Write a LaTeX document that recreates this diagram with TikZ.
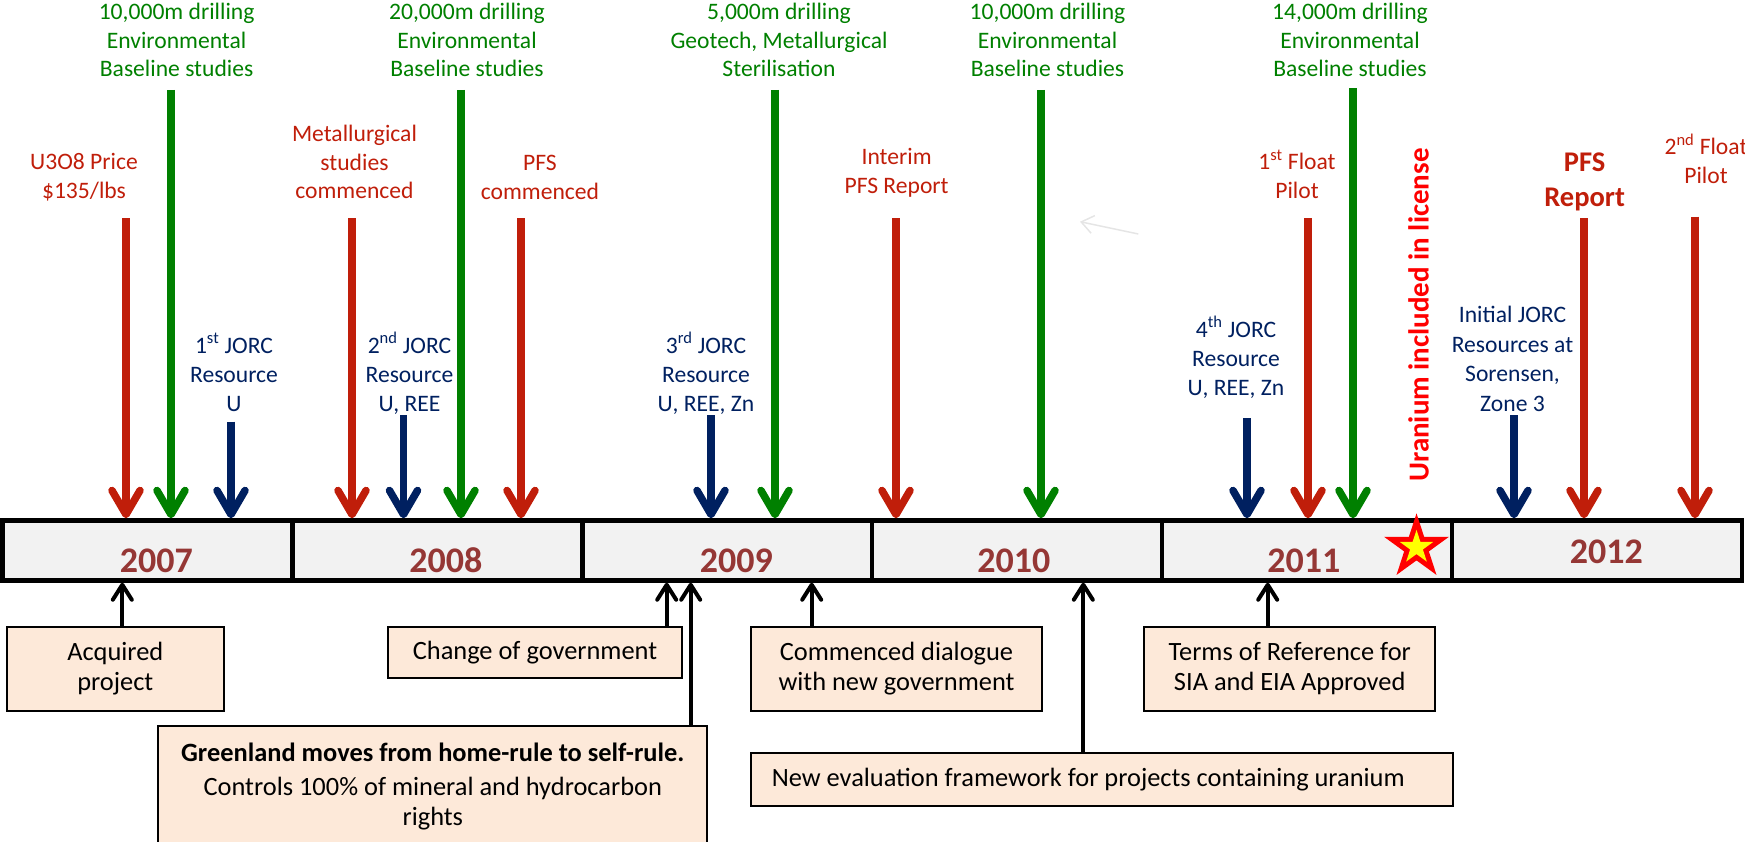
\documentclass[tikz,border=0pt]{standalone}
\usepackage{fontspec}
\setmainfont{Carlito}
\usetikzlibrary{arrows.meta}
\definecolor{evred}{RGB}{192,30,10}
\definecolor{evgreen}{RGB}{0,128,0}
\definecolor{evblue}{RGB}{0,32,96}
\definecolor{yeartext}{RGB}{149,55,53}
\definecolor{barfill}{RGB}{242,242,242}
\definecolor{notefill}{RGB}{253,233,217}
\definecolor{licred}{RGB}{255,0,0}
\definecolor{staryellow}{RGB}{255,255,0}
% centred multi-line text whose base is the first line's baseline
\newcommand{\mlines}[1]{\begin{tabular}[t]{@{}c@{}}#1\end{tabular}}
\begin{document}
\begin{tikzpicture}[x=1pt,y=-1pt,
  yearbox/.style={draw=black,line width=4.5pt,fill=barfill,minimum width=289.9pt,minimum height=60pt,inner sep=0pt},
  yeartxt/.style={anchor=base,inner sep=0pt,text=yeartext,font=\fontsize{36}{43}\selectfont\bfseries},
  toplbl/.style={anchor=base,inner sep=0pt,font=\fontsize{23.6}{28.4}\selectfont},
  grnlbl/.style={toplbl,text=evgreen},
  redlbl/.style={toplbl,text=evred},
  blulbl/.style={toplbl,text=evblue,font=\fontsize{23.6}{29.4}\selectfont},
  downarr/.style={line width=7.5pt,-{Straight Barb[length=24pt,width=28pt,round]}},
  redarr/.style={downarr,draw=evred},
  grnarr/.style={downarr,draw=evgreen},
  bluarr/.style={downarr,draw=evblue},
  note/.style={draw=black,line width=2pt,fill=notefill,inner sep=0pt,align=center,font=\fontsize{26.4}{30}\selectfont},
  uparr/.style={draw=black,line width=4pt,-{Straight Barb[length=15pt,width=19pt,round]}},
]
\useasboundingbox (0,0) rectangle (1745,842);

% ---- year bar ----
\node[yearbox] (y2007) at (147.45,550.5) {};
\node[yearbox] (y2008) at (437.35,550.5) {};
\node[yearbox] (y2009) at (727.25,550.5) {};
\node[yearbox] (y2010) at (1017.15,550.5) {};
\node[yearbox] (y2011) at (1307.05,550.5) {};
\node[yearbox] (y2012) at (1596.95,550.5) {};
\node[yeartxt] (t2007) at (156.3,572) {2007};
\node[yeartxt] (t2008) at (445.9,572) {2008};
\node[yeartxt] (t2009) at (736.4,572) {2009};
\node[yeartxt] (t2010) at (1013.8,572) {2010};
\node[yeartxt] (t2011) at (1303.9,572) {2011};
\node[yeartxt] (t2012) at (1606.4,563) {2012};

% licence star
\fill[licred,shift={(1416.5,547.4)}] (270:34) -- (306:13) -- (342:34) -- (18:13) -- (54:34) -- (90:13)
  -- (126:34) -- (162:13) -- (198:34) -- (234:13) -- cycle;
\fill[staryellow,shift={(1416.5,547.4)}] (270:17.5) -- (306:6.7) -- (342:17.5) -- (18:6.7) -- (54:17.5) -- (90:6.7)
  -- (126:17.5) -- (162:6.7) -- (198:17.5) -- (234:6.7) -- cycle;
\node[rotate=90,inner sep=0pt,text=licred,font=\fontsize{29}{34}\selectfont\bfseries] (lic) at (1418.5,315) {Uranium included in license};

% ---- labels above the bar ----
\node[grnlbl] (g1) at (176.6,20) {\mlines{10,000m drilling\\Environmental\\Baseline studies}};
\node[grnlbl] (g2) at (467,20) {\mlines{20,000m drilling\\Environmental\\Baseline studies}};
\node[grnlbl] (g3) at (779,20) {\mlines{5,000m drilling\\Geotech, Metallurgical\\Sterilisation}};
\node[grnlbl] (g4) at (1047.5,20) {\mlines{10,000m drilling\\Environmental\\Baseline studies}};
\node[grnlbl] (g5) at (1350,20) {\mlines{14,000m drilling\\Environmental\\Baseline studies}};

\node[redlbl] (r1) at (84,170) {\mlines{U3O8 Price\\\$135/lbs}};
\node[redlbl] (r2) at (354.5,142) {\mlines{Metallurgical\\studies\\commenced}};
\node[redlbl] (r3) at (540,171) {\mlines{PFS\\commenced}};
\node[redlbl] (r4) at (896.6,165) {\mlines{Interim\\PFS Report}};
\node[redlbl] (r5) at (1297,170) {\mlines{1\textsuperscript{st} Float\\Pilot}};
\node[redlbl,font=\fontsize{28.5}{34.8}\selectfont\bfseries] (r6) at (1584.6,172) {\mlines{PFS\\Report}};
\node[redlbl] (r7) at (1706,155) {\mlines{2\textsuperscript{nd} Float\\Pilot}};

\node[blulbl] (b1) at (234,353) {\mlines{1\textsuperscript{st} JORC\\Resource\\U}};
\node[blulbl] (b2) at (409.5,353) {\mlines{2\textsuperscript{nd} JORC\\Resource\\U, REE}};
\node[blulbl] (b3) at (706,353) {\mlines{3\textsuperscript{rd} JORC\\Resource\\U, REE, Zn}};
\node[blulbl] (b4) at (1236,337) {\mlines{4\textsuperscript{th} JORC\\Resource\\U, REE, Zn}};
\node[blulbl] (b5) at (1512.5,323) {\mlines{Initial JORC\\Resources at\\Sorensen,\\Zone 3}};

% ---- arrow starts ----
\coordinate (ra1) at (126,218.3);
\coordinate (ra2) at (352,218.3);
\coordinate (ra3) at (521,218.3);
\coordinate (ra4) at (896,218.3);
\coordinate (ra5) at (1308,218.3);
\coordinate (ra6) at (1584,218.3);
\coordinate (ra7) at (1695,216.7);
\coordinate (ga1) at (171,90);
\coordinate (ga2) at (461,90);
\coordinate (ga3) at (775,90);
\coordinate (ga4) at (1041,90);
\coordinate (ga5) at (1353,88.3);
\coordinate (ba1) at (231,421.7);
\coordinate (ba2) at (403.5,415);
\coordinate (ba3) at (711,415);
\coordinate (ba4) at (1247,418.3);
\coordinate (ba5) at (1514,415);

\draw[redarr] (ra1) -- (ra1 |- y2007.north);
\draw[redarr] (ra2) -- (ra2 |- y2008.north);
\draw[redarr] (ra3) -- (ra3 |- y2008.north);
\draw[redarr] (ra4) -- (ra4 |- y2010.north);
\draw[redarr] (ra5) -- (ra5 |- y2011.north);
\draw[redarr] (ra6) -- (ra6 |- y2012.north);
\draw[redarr] (ra7) -- (ra7 |- y2012.north);
\draw[grnarr] (ga1) -- (ga1 |- y2007.north);
\draw[grnarr] (ga2) -- (ga2 |- y2008.north);
\draw[grnarr] (ga3) -- (ga3 |- y2009.north);
\draw[grnarr] (ga4) -- (ga4 |- y2010.north);
\draw[grnarr] (ga5) -- (ga5 |- y2011.north);
\draw[bluarr] (ba1) -- (ba1 |- y2007.north);
\draw[bluarr] (ba2) -- (ba2 |- y2008.north);
\draw[bluarr] (ba3) -- (ba3 |- y2009.north);
\draw[bluarr] (ba4) -- (ba4 |- y2011.north);
\draw[bluarr] (ba5) -- (ba5 |- y2012.north);

% faint stray pointer
\coordinate (fa1) at (1138.3,234);
\coordinate (fa2) at (1080,221.7);
\draw[draw=black!10,line width=1.5pt,-{Straight Barb[length=12pt,width=18pt]}] (fa1) -- (fa2);

% ---- notes below the bar ----
\node[note,minimum width=217.3pt,minimum height=84pt] (acq) at (115.3,668.8) {Acquired\\project};
\node[note,minimum width=294.6pt,minimum height=51.6pt] (chg) at (535,652.5) {Change of government};
\node[note,minimum width=549pt,minimum height=120pt] (grl) at (432.8,786) {{\bfseries Greenland moves from home-rule to self-rule.}\\[4pt]Controls 100\% of mineral and hydrocarbon\\rights};
\node[note,minimum width=291pt,minimum height=84pt] (cmd) at (896.5,669) {Commenced dialogue\\with new government};
\node[note,minimum width=702.3pt,minimum height=52.4pt] (nev) at (1102.2,779.5) {\makebox[660.9pt][l]{New evaluation framework for projects containing uranium}};
\node[note,minimum width=290.7pt,minimum height=84pt] (tor) at (1289.7,669) {Terms of Reference for\\SIA and EIA Approved};

\draw[uparr] ([xshift=7pt]acq.north) -- ([xshift=7pt]acq.north |- y2007.south);
\draw[uparr] ([xshift=131.7pt]chg.north) -- ([xshift=131.7pt]chg.north |- y2009.south);
\draw[uparr] ([xshift=257.9pt]grl.north) -- ([xshift=257.9pt]grl.north |- y2009.south);
\draw[uparr] ([xshift=-84.8pt]cmd.north) -- ([xshift=-84.8pt]cmd.north |- y2009.south);
\draw[uparr] ([xshift=-18.9pt]nev.north) -- ([xshift=-18.9pt]nev.north |- y2010.south);
\draw[uparr] ([xshift=-22pt]tor.north) -- ([xshift=-22pt]tor.north |- y2011.south);
\end{tikzpicture}
\end{document}
